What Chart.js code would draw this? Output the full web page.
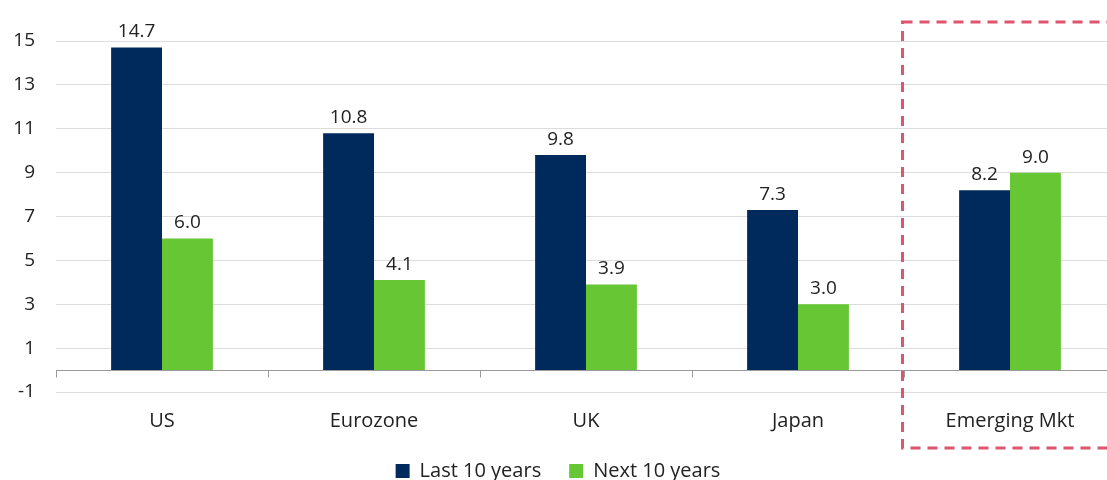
<!DOCTYPE html>
<html>
<head>
<meta charset="utf-8">
<script src="https://cdn.jsdelivr.net/npm/chart.js@4/dist/chart.umd.min.js"></script>
<style>
  html, body { margin: 0; padding: 0; background: #fff; overflow: hidden; }
  #wrap { width: 1120px; height: 480px; position: relative; }
</style>
</head>
<body>
<div id="wrap"><canvas id="chart"></canvas></div>
<script>
// data
const regions = ['US', 'Eurozone', 'UK', 'Japan', 'Emerging Mkt'];
const lastTen = [14.7, 10.8, 9.8, 7.3, 8.2];
const nextTen = [6.0, 4.1, 3.9, 3.0, 9.0];
const seriesNames = ['Last 10 years', 'Next 10 years'];

const NAVY = '#002a5c';
const GREEN = '#66c634';
const FONT = "'Open Sans', 'Noto Sans', sans-serif";

// value labels above the bars
const valueLabels = {
  id: 'valueLabels',
  afterDatasetsDraw(chart) {
    const ctx = chart.ctx;
    ctx.save();
    ctx.font = '19px ' + FONT;
    ctx.fillStyle = '#222';
    ctx.textAlign = 'center';
    ctx.textBaseline = 'bottom';
    chart.data.datasets.forEach((ds, i) => {
      chart.getDatasetMeta(i).data.forEach((bar, j) => {
        ctx.fillText(ds.data[j].toFixed(1), bar.x, bar.y - 6);
      });
    });
    ctx.restore();
  }
};

// zero line with category tick marks, plus dashed box round the last category
const axisExtras = {
  id: 'axisExtras',
  beforeDatasetsDraw(chart) {
    const { ctx, chartArea, scales } = chart;
    const y0 = Math.round(scales.y.getPixelForValue(0)) + 0.5;
    ctx.save();
    ctx.strokeStyle = '#9a9a9a';
    ctx.lineWidth = 1;
    ctx.beginPath();
    ctx.moveTo(chartArea.left, y0);
    ctx.lineTo(chartArea.right, y0);
    const step = (chartArea.right - chartArea.left) / regions.length;
    for (let i = 0; i <= regions.length; i++) {
      const x = Math.round(chartArea.left + i * step) + 0.5;
      ctx.moveTo(x, y0);
      ctx.lineTo(x, y0 + 7);
    }
    ctx.stroke();
    ctx.restore();
  },
  afterDraw(chart) {
    const { ctx, chartArea } = chart;
    const step = (chartArea.right - chartArea.left) / regions.length;
    const left = chartArea.left + 4 * step - 1.5;
    ctx.save();
    ctx.strokeStyle = '#e0556e';
    ctx.lineWidth = 3;
    ctx.setLineDash([10, 7]);
    ctx.strokeRect(left, 22, 1200 - left, 426);
    ctx.restore();
  }
};

new Chart(document.getElementById('chart'), {
  type: 'bar',
  data: {
    labels: regions,
    datasets: [
      { label: seriesNames[0], data: lastTen, backgroundColor: NAVY },
      { label: seriesNames[1], data: nextTen, backgroundColor: GREEN }
    ]
  },
  options: {
    responsive: true,
    maintainAspectRatio: false,
    animation: false,
    datasets: { bar: { categoryPercentage: 0.48, barPercentage: 1.0 } },
    layout: { padding: { top: 41, right: 4, bottom: 0, left: 0 } },
    plugins: {
      legend: {
        position: 'bottom',
        maxHeight: 47,
        labels: {
          font: { family: FONT, size: 20 }, color: '#222',
          boxWidth: 14, boxHeight: 14, padding: 28
        }
      },
      tooltip: { enabled: false }
    },
    scales: {
      x: {
        grid: { display: false, drawTicks: false },
        border: { display: false },
        ticks: { font: { family: FONT, size: 20 }, color: '#222', padding: 17 },
        afterFit(scale) { scale.height = 41; }
      },
      y: {
        min: -1, max: 15,
        grid: { color: '#dcdcdc', drawTicks: false },
        border: { display: false },
        ticks: { stepSize: 2, font: { family: FONT, size: 19 }, color: '#222', padding: 21 },
        afterFit(scale) { scale.width = 56; }
      }
    }
  },
  plugins: [valueLabels, axisExtras]
});
</script>
</body>
</html>
